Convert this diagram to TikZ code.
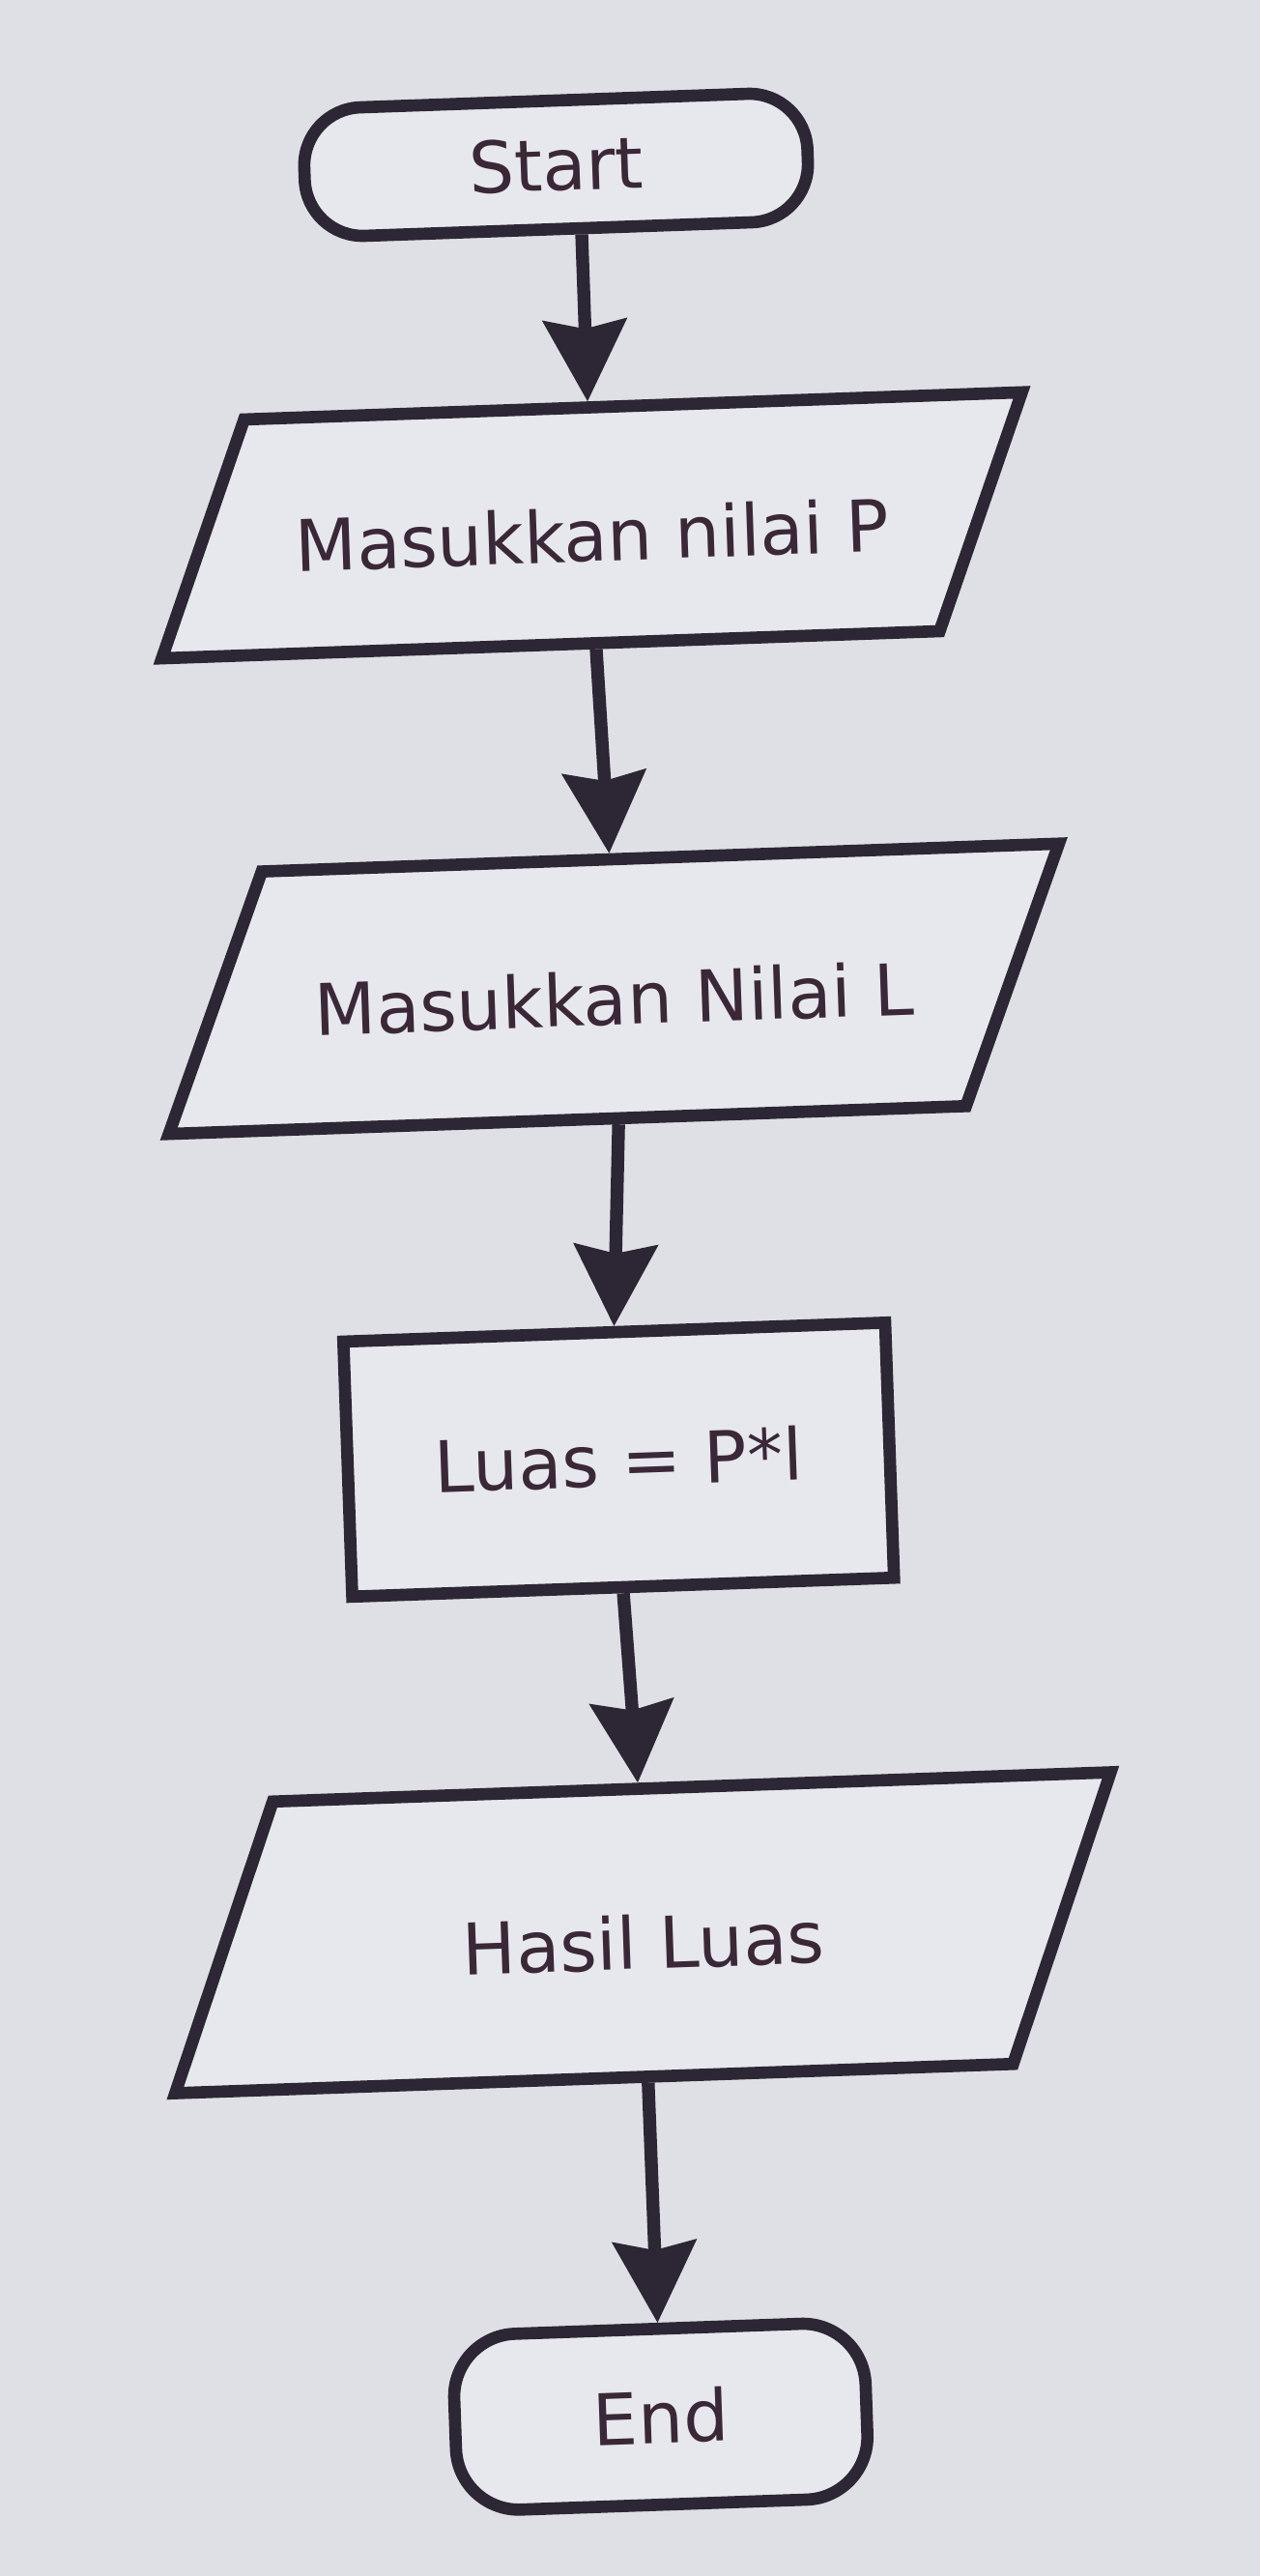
\documentclass[tikz,border=0pt]{standalone}
\usepackage{fontspec}
\setmainfont{DejaVu Sans}
\usetikzlibrary{shapes.geometric,arrows.meta}
\definecolor{paper}{RGB}{223,224,230}
\definecolor{boxfill}{RGB}{231,232,237}
\definecolor{ink}{RGB}{45,38,52}
\definecolor{textink}{RGB}{58,40,56}
\tikzset{
  chart/.style={draw=ink, line width=3.6pt, fill=boxfill, text=textink,
    font=\fontsize{21pt}{25pt}\selectfont, inner sep=0pt},
  terminal/.style={chart, rectangle, rounded corners=0.6cm},
  io/.style={chart, trapezium, trapezium left angle=70, trapezium right angle=110,
    trapezium stretches body, text height=0.75cm, text depth=0cm},
  process/.style={chart, rectangle},
  flow/.style={draw=ink, line width=3.8pt,
    -{Stealth[length=0.85cm, width=0.88cm, inset=0.1cm, line width=1pt]}},
}
\begin{document}
\begin{tikzpicture}
  \useasboundingbox (-6.40,-13.35) rectangle (6.64,13.30);
  \fill[paper] (-6.40,-13.35) rectangle (6.64,13.30);

  % the photo is turned a little
  \begin{scope}[rotate=2, transform shape]
    \node[terminal, minimum width=5.21cm, minimum height=1.33cm] (start) at (-0.24,11.61) {Start};

    \node[io, minimum width=8.99cm, inner ysep=0.845cm,
      trapezium left angle=69, trapezium right angle=111] (in1) at (0,7.87) {Masukkan nilai P};
    \node[io, minimum width=9.31cm, inner ysep=0.965cm,
      trapezium left angle=68.5, trapezium right angle=111.5] (in2) at (0.06,3.07) {Masukkan Nilai L};

    \node[process, minimum width=5.61cm, minimum height=2.64cm] (luas) at (-0.06,-1.80) {Luas = P*l};

    \node[io, minimum width=9.79cm, inner ysep=1.115cm,
      trapezium left angle=69.5, trapezium right angle=110.5] (out1) at (0.02,-6.70) {Hasil Luas};

    \node[terminal, minimum width=4.26cm, minimum height=1.82cm, rounded corners=0.65cm] (stop) at (0.03,-11.71) {End};

    \path (start.south) ++(0.24,0) edge [flow] (in1.90);
    \path (in1.270) edge [flow] (in2.90);
    \path (in2.270) edge [flow] (luas.north);
    \path (luas.south) edge [flow] (out1.90);
    \path (out1.270) edge [flow] (stop.north);
  \end{scope}
\end{tikzpicture}
\end{document}
